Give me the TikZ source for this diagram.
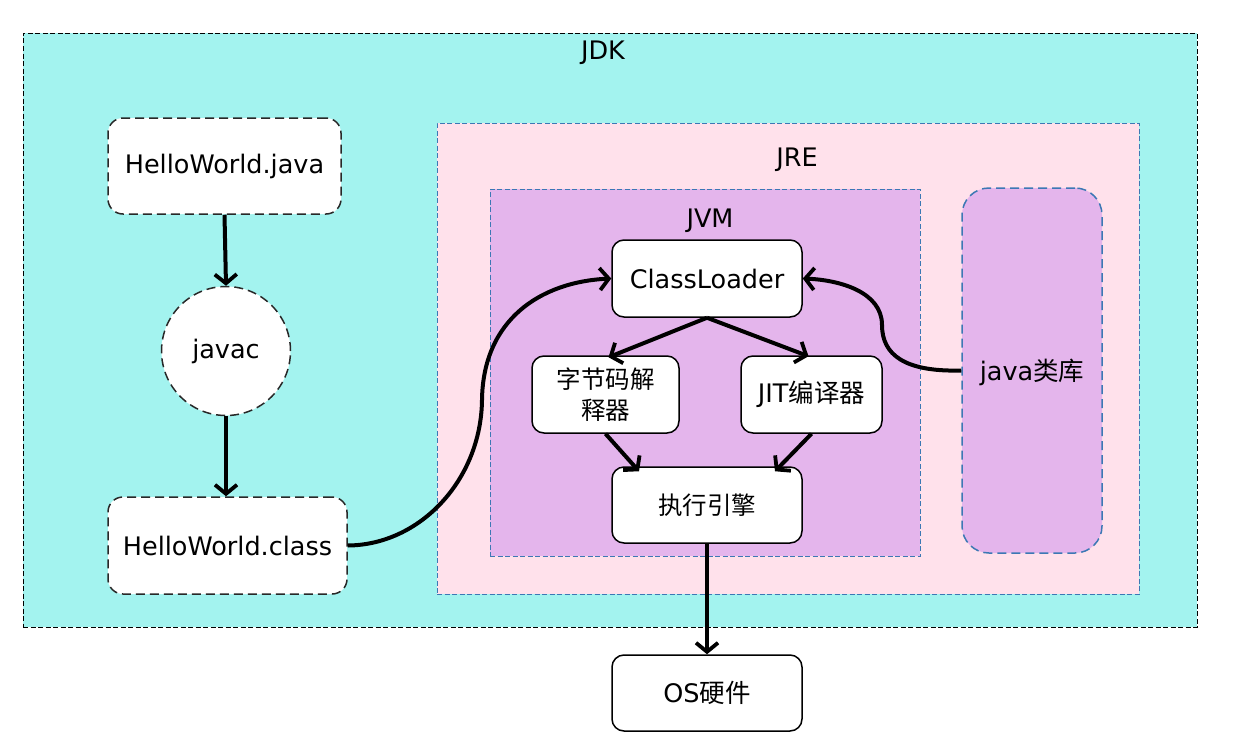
\documentclass[tikz,border=0pt]{standalone}
\usepackage{fontspec}
\setmainfont{DejaVu Sans}
\newfontfamily\cjk{Noto Sans CJK SC}
\usetikzlibrary{arrows.meta,positioning}
\definecolor{jdkfill}{RGB}{163,243,239}
\definecolor{jrefill}{RGB}{255,225,235}
\definecolor{jvmfill}{RGB}{228,181,236}
\definecolor{bord}{RGB}{60,120,180}
\definecolor{nodeb}{RGB}{40,40,40}
\tikzset{
  txt/.style={font=\fontsize{25.5}{31}\selectfont, text=black},
  container/.style={draw=bord, line width=0.9pt, dash pattern=on 5pt off 2.5pt, inner sep=0pt},
  dbox/.style={txt, draw=nodeb, line width=1.5pt, fill=white, rounded corners=15pt, dash pattern=on 9pt off 5pt, inner sep=0pt, align=center},
  sbox/.style={txt, draw=black, line width=1.5pt, fill=white, rounded corners=12pt, inner sep=0pt, align=center},
  conn/.style={line width=4pt, -{Straight Barb[length=9pt,width=22pt,line width=3.8pt]}},
  plain/.style={line width=4pt}
}
\begin{document}
\begin{tikzpicture}[x=1pt,y=-1pt]
\useasboundingbox (0,0) rectangle (1240,750);
\fill[white] (0,0) rectangle (1240,750);
% JDK
\node[container, draw=black, fill=jdkfill, minimum width=1174pt, minimum height=594pt] (jdk) at (610,330) {};
\node[txt] (jdklbl) at (603,53) {JDK};
% JRE
\node[container, fill=jrefill, minimum width=702pt, minimum height=471pt] (jre) at (788,358.5) {};
\node[txt] (jrelbl) at (797,160) {JRE};
% JVM
\node[container, fill=jvmfill, minimum width=430pt, minimum height=367pt] (jvm) at (705,372.5) {};
\node[txt] (jvmlbl) at (710,221) {JVM};
% java lib
\node[txt, draw=bord, line width=1.5pt, fill=jvmfill, rounded corners=27pt, dash pattern=on 9pt off 5pt, minimum width=140pt, minimum height=365pt] (lib) at (1032,370.5) {};
\node[txt] (libtxt) at (1032,372) {java{\cjk 类库}};
% left column
\node[dbox, minimum width=233pt, minimum height=96pt] (hwj) at (224.5,166) {HelloWorld.java};
\node[dbox, circle, minimum size=129pt] (javac) at (226,351) {javac};
\node[dbox, minimum width=239pt, minimum height=97pt] (hwc) at (227.5,545.5) {HelloWorld.class};
% JVM internals
\node[sbox, minimum width=190pt, minimum height=77pt] (cl) at (707,278.5) {ClassLoader};
\node[sbox, minimum width=147pt, minimum height=77pt, font=\cjk\fontsize{24.5}{31}\selectfont] (bc) at (605.5,394.5) {字节码解\\释器};
\node[sbox, minimum width=141pt, minimum height=77pt] (jit) at (811.5,394.5) {JIT{\cjk 编译器}};
\node[sbox, minimum width=190pt, minimum height=76pt, font=\cjk\fontsize{24.5}{29}\selectfont] (ee) at (707,505) {执行引擎};
\node[sbox, minimum width=190pt, minimum height=76pt] (os) at (707,693) {OS{\cjk 硬件}};
% connectors
\draw[conn] (hwj.south) -- (javac.north);
\draw[conn] (javac.south) -- (javac.south |- hwc.north);
\draw[plain] (hwc.east) .. controls (420,545) and (481,480) .. (482,400) coordinate (clsmid);
\draw[conn] (clsmid) .. controls (483,320) and (540,282) .. (cl.west);
\draw[plain] (lib.west) .. controls (905,372) and (882,355) .. (882,325) coordinate (libmid);
\draw[conn] (libmid) .. controls (882,292) and (840,280) .. (cl.east);
\draw[conn] (cl.south) -- ([xshift=3pt,yshift=-2pt]bc.north);
\draw[conn] (cl.south) -- ([xshift=-3pt,yshift=-1pt]jit.north);
\draw[conn] (bc.south) -- ([xshift=-68pt,yshift=-5pt]ee.north);
\draw[conn] (jit.south) -- ([xshift=68pt,yshift=-5pt]ee.north);
\draw[conn] (ee.south) -- (os.north);
\end{tikzpicture}
\end{document}
